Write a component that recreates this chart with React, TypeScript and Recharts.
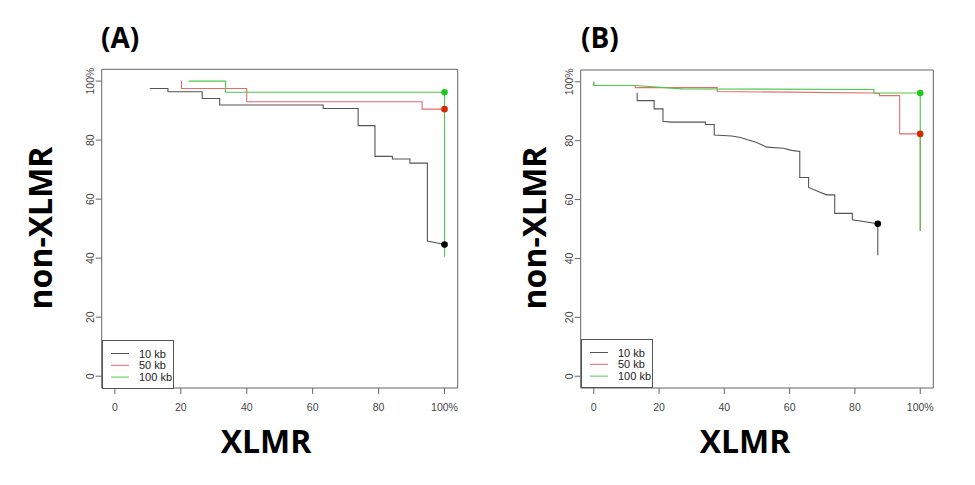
import { ComposedChart, Line, Scatter, XAxis, YAxis, ReferenceArea } from "recharts";

const AXIS_TICKS = [0, 20, 40, 60, 80, 100];
const SERIES_NAMES = ["10 kb", "50 kb", "100 kb"];
const SERIES_COLORS = ["#555555", "#e86a6a", "#4cc94c"];
const DOT_COLORS = ["#000000", "#d42a00", "#1ec81e"];

// panel A: [XLMR %, non-XLMR %]
const a10kb = [
  [10.6, 97.5], [16.1, 97.5], [16.1, 96.4], [26.5, 96.4], [26.5, 94.1], [31.8, 94.1], [31.8, 91.9],
  [63.2, 91.9], [63.2, 90.7], [73.8, 90.7], [73.8, 84.9], [78.9, 84.9], [78.9, 74.5], [84.2, 74.5],
  [84.2, 73.6], [89.5, 73.6], [89.5, 72.2], [94.8, 72.2], [94.8, 45.8], [100, 44.6],
];
const a50kb = [[20.2, 100], [20.2, 97.5], [40, 97.5], [40, 93.0], [93.2, 93.0], [93.2, 90.5], [100, 90.5]];
const a100kb = [[22.4, 100], [33.6, 100], [33.6, 96.2], [100, 96.2], [100, 40.5]];
const aEnds = [[100, 44.6], [100, 90.5], [100, 96.2]];

// panel B
const b10kb = [
  [13.3, 96.3], [13.3, 93.6], [18.5, 93.6], [18.5, 90.8], [21.2, 90.8], [21.2, 86.6], [23.6, 86.3],
  [34.2, 86.3], [34.2, 85.5], [36.9, 85.5], [36.9, 81.9], [42.3, 81.6], [44.9, 81.1], [47.4, 80.2],
  [49.9, 79.4], [53, 77.8], [58.1, 77.4], [60.6, 76.7], [63.1, 76.3], [63.1, 67.5], [65.8, 67.5],
  [65.8, 64.1], [68.2, 63], [71.3, 61.6], [73.8, 61.6], [73.8, 55.3], [79.2, 55.3], [79.2, 53.1],
  [87, 51.8], [87, 41.1],
];
const b50kb = [
  [0, 100], [0, 98.75], [12.7, 98.75], [12.7, 98.0], [37.8, 98.0], [37.8, 96.7], [85.8, 96.2],
  [87.5, 96.0], [87.5, 95.3], [93.7, 95.3], [93.7, 82.3], [100, 82.3], [100, 49.3],
];
const b100kb = [[0, 100], [0, 98.75], [12.7, 98.75], [27, 97.6], [85.8, 97.4], [85.8, 96.2], [100, 96.2], [100, 49.3]];
const bEnds = [[87, 51.8], [100, 82.3], [100, 96.2]];

const toPoints = (rows: number[][]) => rows.map(([x, y]) => ({ x, y }));

const tickFont = { fontFamily: "Liberation Sans, Arial, sans-serif", fontSize: 10.5, fill: "#444" };
const fmt = (v: number) => (v === 100 ? "100%" : String(v));

function XTick({ x, y, payload }: any) {
  return (
    <text x={x} y={y + 14.5} textAnchor="middle" style={tickFont}>
      {fmt(payload.value)}
    </text>
  );
}

function YTick({ x, y, payload }: any) {
  return (
    <text x={x + 0.5} y={y} textAnchor="middle" transform={`rotate(-90 ${x + 0.5} ${y})`} style={tickFont}>
      {fmt(payload.value)}
    </text>
  );
}

// R-style legend box sitting in the lower left corner of the plot frame
function LegendBox({ left, top }: { left: number; top: number }) {
  return (
    <div
      style={{
        position: "absolute",
        left,
        top,
        width: 72,
        height: 49,
        border: "1px solid #555",
        background: "#fff",
        boxSizing: "border-box",
      }}
    >
      <svg width={70} height={47} style={{ display: "block" }}>
        {SERIES_NAMES.map((name, i) => (
          <g key={name}>
            <line x1={8} x2={26} y1={12.5 + i * 11.8} y2={12.5 + i * 11.8} stroke={SERIES_COLORS[i]} strokeWidth={1} />
            <text x={36} y={16.5 + i * 11.8} style={{ fontFamily: "Liberation Sans, Arial, sans-serif", fontSize: 11, fill: "#222" }}>
              {name}
            </text>
          </g>
        ))}
      </svg>
    </div>
  );
}

function Panel({ series, ends, width, margin }: { series: number[][][]; ends: number[][]; width: number; margin: any }) {
  return (
    <ComposedChart width={width} height={485} margin={margin}>
      <XAxis
        dataKey="x"
        type="number"
        domain={[-4, 104]}
        ticks={AXIS_TICKS}
        allowDataOverflow
        axisLine={false}
        tickLine={{ stroke: "#666" }}
        tickSize={6}
        tickMargin={2}
        height={30}
        tick={<XTick />}
        interval={0}
      />
      <YAxis
        dataKey="y"
        type="number"
        domain={[-4, 104]}
        ticks={AXIS_TICKS}
        allowDataOverflow
        axisLine={false}
        tickLine={{ stroke: "#666" }}
        tickSize={6}
        tickMargin={2}
        width={30}
        tick={<YTick />}
        interval={0}
      />
      <ReferenceArea x1={-4} x2={104} y1={-4} y2={104} fill="none" stroke="#666" strokeWidth={1} ifOverflow="visible" />
      {series.map((rows, i) => (
        <Line
          key={SERIES_NAMES[i]}
          name={SERIES_NAMES[i]}
          data={toPoints(rows)}
          dataKey="y"
          type="linear"
          stroke={SERIES_COLORS[i]}
          strokeWidth={1.1}
          dot={false}
          activeDot={false}
          isAnimationActive={false}
        />
      ))}
      {ends.map((pt, i) => (
        <Scatter
          key={"end" + i}
          data={toPoints([pt])}
          dataKey="y"
          isAnimationActive={false}
          shape={(p: any) => <circle cx={p.cx} cy={p.cy} r={3.3} fill={DOT_COLORS[i]} />}
        />
      ))}
    </ComposedChart>
  );
}

const bigFont = { fontFamily: "Open Sans, Noto Sans, sans-serif", fontWeight: 700, fill: "#000" };

export default function App() {
  return (
    <div style={{ position: "absolute", left: 0, top: 0, width: 975, height: 485, background: "#fff" }}>
      <div style={{ position: "absolute", left: 0, top: 0 }}>
        <Panel series={[a10kb, a50kb, a100kb]} ends={aEnds} width={475} margin={{ top: 69.3, left: 71.7, right: 17.3, bottom: 67 }} />
      </div>
      <div style={{ position: "absolute", left: 480, top: 0 }}>
        <Panel series={[b10kb, b50kb, b100kb]} ends={bEnds} width={495} margin={{ top: 70, left: 70.7, right: 41.7, bottom: 67 }} />
      </div>
      <LegendBox left={101.5} top={339.5} />
      <LegendBox left={580.5} top={339} />
      <svg width={975} height={485} style={{ position: "absolute", left: 0, top: 0, pointerEvents: "none" }}>
        <text x={101} y={48} style={{ ...bigFont, fontSize: 28 }}>(A)</text>
        <text x={581} y={48} style={{ ...bigFont, fontSize: 28 }}>(B)</text>
        <text x={266} y={453} textAnchor="middle" style={{ ...bigFont, fontSize: 32 }}>XLMR</text>
        <text x={745} y={453} textAnchor="middle" style={{ ...bigFont, fontSize: 32 }}>XLMR</text>
        <text x={52} y={228} textAnchor="middle" transform="rotate(-90 52 228)" style={{ ...bigFont, fontSize: 32 }}>non-XLMR</text>
        <text x={546} y={228} textAnchor="middle" transform="rotate(-90 546 228)" style={{ ...bigFont, fontSize: 32 }}>non-XLMR</text>
      </svg>
    </div>
  );
}
